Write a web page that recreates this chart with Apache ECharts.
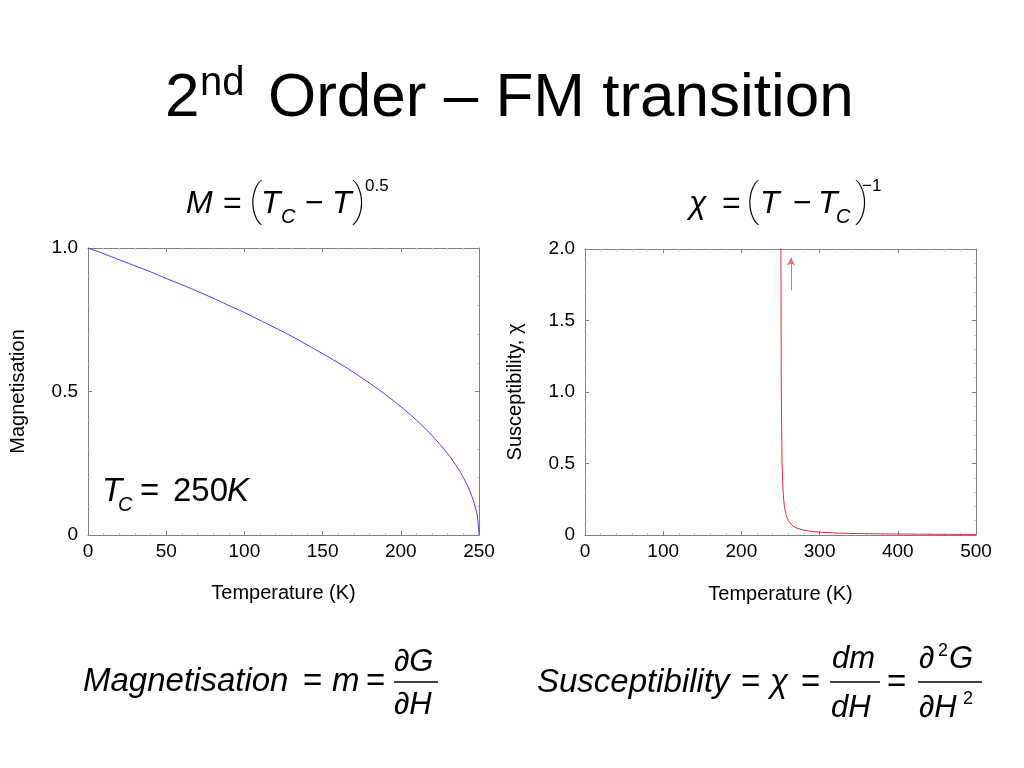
<!DOCTYPE html>
<html>
<head>
<meta charset="utf-8">
<script src="https://cdn.jsdelivr.net/npm/echarts@6/dist/echarts.min.js"></script>
<style>html,body{margin:0;padding:0;background:#fff}#c{width:1024px;height:768px}</style>
</head>
<body>
<div id="c"></div>
<script>
// Magnetisation vs temperature
var magT = [0,10,20,30,40,50,60,70,80,90,100,110,120,130,140,150,160,170,180,190,200,210,220,230,235,240,245,248,249,250];
var magM = [1.0,0.980,0.959,0.938,0.917,0.894,0.872,0.849,0.825,0.800,0.775,0.748,0.721,0.693,0.663,0.632,0.600,0.566,0.529,0.490,0.447,0.400,0.346,0.283,0.245,0.200,0.141,0.089,0.063,0.0];
// Susceptibility vs temperature
var susT = [250.07,250.5,251,252,253,254,255,257,260,265,270,280,290,300,325,350,400,450,500];
var susX = [14,2.0,1.0,0.5,0.333,0.25,0.2,0.143,0.1,0.067,0.05,0.033,0.025,0.02,0.013,0.01,0.0067,0.005,0.004];
// Arrow annotation (data coords)
var arrowFrom = [263.5, 1.71];
var arrowTo = [263.5, 1.94];
// Tick settings
var magTicksX = {min:0, max:250, interval:50};
var magTicksY = {min:0, max:1, interval:0.5};
var susTicksX = {min:0, max:500, interval:100};
var susTicksY = {min:0, max:2, interval:0.5};

var FF = '"Liberation Sans", Arial, Helvetica, sans-serif';
function pair(a,b){ return a.map(function(v,i){return [v,b[i]];}); }
function yfmt(v){ return v === 0 ? '0' : v.toFixed(1); }

var frame = '#808080';
function axisBase(t, pos, gridIndex, labels, name, nameGap, isY){
  var o = {
    type:'value', gridIndex:gridIndex, position:pos, min:t.min, max:t.max, interval:t.interval,
    axisLine:{show:true, onZero:false, lineStyle:{color:frame, width:1}},
    axisTick:{show:true, inside:true, length:4, lineStyle:{color:frame}},
    minorTick:{show:true, splitNumber:5, length:2, lineStyle:{color:'#c8c8c8'}},
    splitLine:{show:false},
    axisLabel:{show:labels, color:'#000', fontSize:19, fontFamily:FF, margin: isY ? 10 : 7, formatter: isY ? yfmt : null}
  };
  if (name){
    o.name = name; o.nameLocation='middle'; o.nameGap=nameGap;
    o.nameTextStyle = {color:'#000', fontSize:20, fontFamily:FF};
  }
  return o;
}

var xAxes = [
  axisBase(magTicksX,'bottom',0,true,'Temperature (K)',48,false),
  axisBase(magTicksX,'top',0,false,null,0,false),
  axisBase(susTicksX,'bottom',1,true,'Temperature (K)',49,false),
  axisBase(susTicksX,'top',1,false,null,0,false)
];
var yAxes = [
  axisBase(magTicksY,'left',0,true,'Magnetisation',60,true),
  axisBase(magTicksY,'right',0,false,null,0,true),
  axisBase(susTicksY,'left',1,true,'Susceptibility, \u03C7',60,true),
  axisBase(susTicksY,'right',1,false,null,0,true)
];

function tx(text, x, y, size, italic, extra){
  var s = {text:text, x:x, y:y, fontSize:size, fontFamily:FF, fontStyle: italic?'italic':'normal', fill:'#000', verticalAlign:'bottom', align:'left'};
  if (extra) for (var k in extra) s[k]=extra[k];
  return {type:'text', style:s, silent:true};
}
var PAREN = {fontFamily:'Roboto, "Liberation Sans", sans-serif', fontWeight:100};

var graphics = [
  // title
  tx('2', 165, 130, 62, false),
  tx('nd', 200, 104, 40, false),
  tx('Order \u2013 FM transition', 268, 130, 62, false),
  // M = (Tc - T)^0.5
  tx('M', 186, 220, 32, true),
  tx('=', 223, 220, 32, false),
  tx('(', 249, 226, 45, false, PAREN),
  tx('T', 261, 220, 32, true),
  tx('C', 281, 227, 20, true),
  tx('\u2212', 305, 220, 32, false),
  tx('T', 332, 220, 32, true),
  tx(')', 352, 226, 45, false, PAREN),
  tx('0.5', 365, 195, 17, false),
  // chi = (T - Tc)^-1
  tx('\u03C7', 689, 220, 32, true),
  tx('=', 722, 220, 32, false),
  tx('(', 746, 226, 45, false, PAREN),
  tx('T', 760, 220, 32, true),
  tx('\u2212', 793, 220, 32, false),
  tx('T', 818, 220, 32, true),
  tx('C', 836, 227, 20, true),
  tx(')', 855, 226, 45, false, PAREN),
  tx('\u22121', 862, 195, 17, false),
  // Tc = 250K
  tx('T', 102, 508, 33, true),
  tx('C', 118, 515, 20, true),
  tx('=', 140, 508, 33, false),
  tx('250', 173, 508, 33, false),
  tx('K', 227, 508, 33, true),
  // bottom-left formula
  tx('Magnetisation', 83, 698, 33, true),
  tx('=', 303, 698, 33, false),
  tx('m', 332, 698, 33, true),
  tx('=', 366, 698, 33, false),
  tx('\u2202G', 394, 678, 31, true),
  tx('\u2202H', 394, 721, 31, true),
  {type:'line', shape:{x1:394,y1:682,x2:438,y2:682}, style:{stroke:'#000', lineWidth:1.5}, silent:true},
  // bottom-right formula
  tx('Susceptibility', 537, 699, 33, true),
  tx('=', 741, 699, 33, false),
  tx('\u03C7', 770, 699, 33, true),
  tx('=', 801, 699, 33, false),
  tx('dm', 832, 675, 31, true),
  tx('dH', 831, 724, 31, true),
  {type:'line', shape:{x1:830,y1:682,x2:880,y2:682}, style:{stroke:'#000', lineWidth:1.5}, silent:true},
  tx('=', 887, 699, 33, false),
  tx('\u2202', 919, 675, 31, true),
  tx('2', 938, 660, 18, false),
  tx('G', 949, 675, 31, true),
  tx('\u2202H', 919, 724, 31, true),
  tx('2', 963, 708, 18, false),
  {type:'line', shape:{x1:918,y1:682,x2:982,y2:682}, style:{stroke:'#000', lineWidth:1.5}, silent:true}
];

var chart = echarts.init(document.getElementById('c'), null, {renderer:'canvas'});
chart.setOption({
  backgroundColor:'#fff',
  animation:false,
  grid:[
    {left:88, top:248, width:391, height:287},
    {left:585, top:249, width:391, height:286}
  ],
  xAxis:xAxes,
  yAxis:yAxes,
  series:[
    {type:'line', xAxisIndex:0, yAxisIndex:0, data:pair(magT,magM), showSymbol:false, smooth:true,
     lineStyle:{color:'#3a3aff', width:1}, clip:true},
    {type:'line', xAxisIndex:2, yAxisIndex:2, data:pair(susT,susX), showSymbol:false, smooth:false,
     lineStyle:{color:'#e0303c', width:1}, clip:true,
     markLine:{silent:true, symbol:['none','arrow'], symbolSize:[6,8], label:{show:false},
       lineStyle:{color:'#ec6a76', width:1, type:'solid'},
       data:[[{coord:arrowFrom},{coord:arrowTo}]]}}
  ],
  graphic:graphics
});
</script>
</body>
</html>
